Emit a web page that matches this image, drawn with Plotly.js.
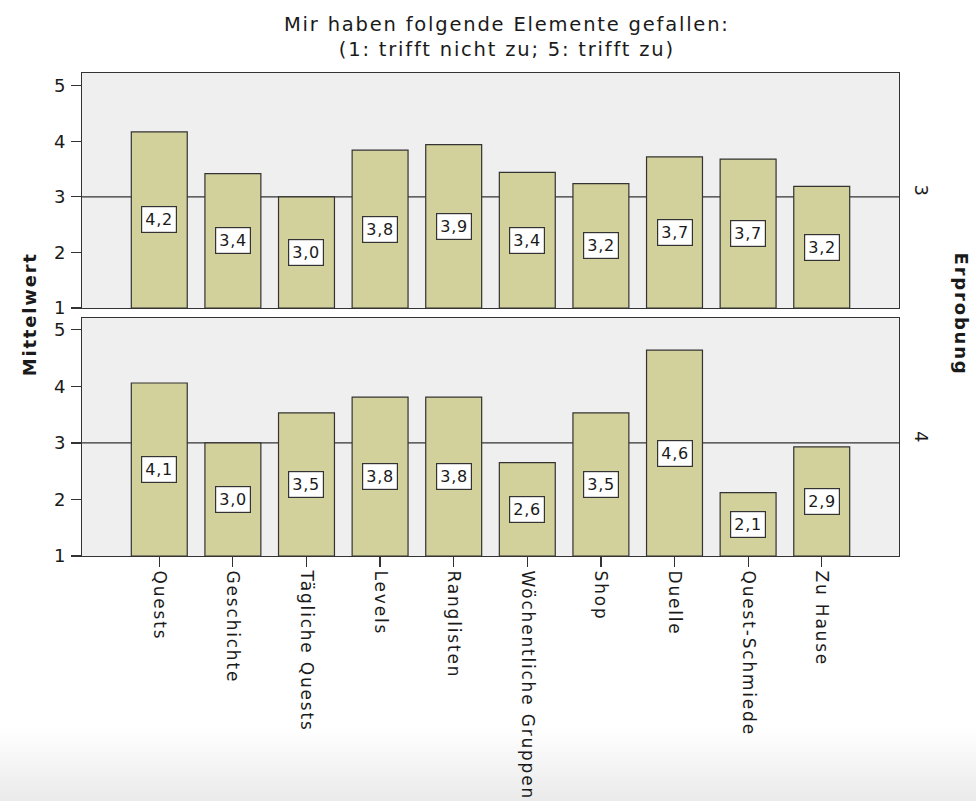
<!DOCTYPE html>
<html>
<head>
<meta charset="utf-8">
<script src="https://cdn.plot.ly/plotly-3.0.1.min.js"></script>
<style>
html,body{margin:0;padding:0;}
body{width:976px;height:801px;background:linear-gradient(to bottom,#ffffff 0px,#ffffff 728px,#eaeaea 801px);}
#chart{width:976px;height:801px;}
svg text{letter-spacing:1.8px;}
svg text.annotation-text.barlbl, svg .barlbl{letter-spacing:0.8px;}
</style>
</head>
<body>
<div id="chart"></div>
<script>
const categories = ["Quests","Geschichte","Tägliche Quests","Levels","Ranglisten","Wöchentliche Gruppen","Shop","Duelle","Quest-Schmiede","Zu Hause"];
const erprobung3 = [4.17, 3.42, 3.00, 3.84, 3.94, 3.44, 3.24, 3.72, 3.68, 3.19];
const erprobung4 = [4.06, 3.00, 3.53, 3.81, 3.81, 2.65, 3.53, 4.64, 2.12, 2.93];
const panelLabels = ["3", "4"];
const yTicks = [1, 2, 3, 4, 5];

const FONT = "DejaVu Sans, Verdana, sans-serif";
const barColor = "#d2d09b";
const lineColor = "#333333";
const textColor = "#1a1a1a";

function barTrace(vals, xa, ya) {
  return {
    type: "bar",
    x: categories,
    y: vals.map(v => v - 1),
    base: 1,
    xaxis: xa, yaxis: ya,
    marker: {color: barColor, line: {color: lineColor, width: 1.2}},
    hoverinfo: "skip",
    showlegend: false
  };
}

function labels(vals, xa, ya) {
  return vals.map((v, i) => ({
    xref: xa, yref: ya,
    x: categories[i], y: (1 + v) / 2,
    text: "<span class='barlbl' style='letter-spacing:0.8px'>" + v.toFixed(1).replace(".", ",") + "</span>",
    showarrow: false,
    bgcolor: "#ffffff",
    bordercolor: lineColor,
    borderwidth: 1.2,
    borderpad: 3,
    font: {family: FONT, size: 16, color: textColor}
  }));
}

const data = [barTrace(erprobung3, "x", "y"), barTrace(erprobung4, "x2", "y2")];

const yBase = {
  range: [1, 5.23],
  tickvals: yTicks,
  ticktext: yTicks.map(String),
  ticks: "outside", ticklen: 10, tickcolor: lineColor, tickwidth: 1.2,
  showline: true, mirror: true, linecolor: lineColor, linewidth: 1.2,
  showgrid: false, zeroline: false,
  tickfont: {family: FONT, size: 18, color: textColor}
};
const xBase = {
  type: "category",
  range: [-1.05, 10.05],
  showline: true, mirror: true, linecolor: lineColor, linewidth: 1.2,
  showgrid: false, zeroline: false
};

const layout = {
  width: 976, height: 801,
  margin: {l: 82, r: 77, t: 73, b: 245},
  paper_bgcolor: "rgba(0,0,0,0)",
  plot_bgcolor: "#efefef",
  bargap: 0.24,
  font: {family: FONT, color: textColor},
  xaxis: Object.assign({}, xBase, {anchor: "y", showticklabels: false, ticks: ""}),
  yaxis: Object.assign({}, yBase, {anchor: "x", domain: [0.5135, 1]}),
  xaxis2: Object.assign({}, xBase, {anchor: "y2", matches: "x", ticks: "outside", ticklen: 10, tickcolor: lineColor, tickwidth: 1.2, tickangle: 90, tickfont: {family: FONT, size: 17, color: textColor}}),
  yaxis2: Object.assign({}, yBase, {anchor: "x2", domain: [0, 0.4928], range: [1, 5.21]}),
  shapes: [
    {type: "line", layer: "below", xref: "x domain", yref: "y", x0: 0, x1: 1, y0: 3, y1: 3, line: {color: lineColor, width: 1.2}},
    {type: "line", layer: "below", xref: "x2 domain", yref: "y2", x0: 0, x1: 1, y0: 3, y1: 3, line: {color: lineColor, width: 1.2}}
  ],
  annotations: [
    ...labels(erprobung3, "x", "y"),
    ...labels(erprobung4, "x2", "y2"),
    {xref: "paper", yref: "paper", x: 0.52, y: 1.128, xanchor: "center", yanchor: "top",
     text: "Mir haben folgende Elemente gefallen:<br>(1: trifft nicht zu; 5: trifft zu)",
     showarrow: false, font: {family: FONT, size: 19.5, color: textColor}},
    {xref: "paper", yref: "y domain", x: 1.027, y: 0.5, xanchor: "center", yanchor: "middle", text: panelLabels[0], textangle: 90, showarrow: false, font: {family: FONT, size: 18, color: textColor}},
    {xref: "paper", yref: "y2 domain", x: 1.027, y: 0.5, xanchor: "center", yanchor: "middle", text: panelLabels[1], textangle: 90, showarrow: false, font: {family: FONT, size: 18, color: textColor}},
    {xref: "paper", yref: "paper", x: -0.064, y: 0.5, xanchor: "center", yanchor: "middle", text: "<b>Mittelwert</b>", textangle: -90, showarrow: false, font: {family: FONT, size: 18, color: textColor}},
    {xref: "paper", yref: "paper", x: 1.077, y: 0.5, xanchor: "center", yanchor: "middle", text: "<b>Erprobung</b>", textangle: 90, showarrow: false, font: {family: FONT, size: 18, color: textColor}}
  ]
};

Plotly.newPlot("chart", data, layout, {displayModeBar: false, staticPlot: true});
</script>
</body>
</html>
